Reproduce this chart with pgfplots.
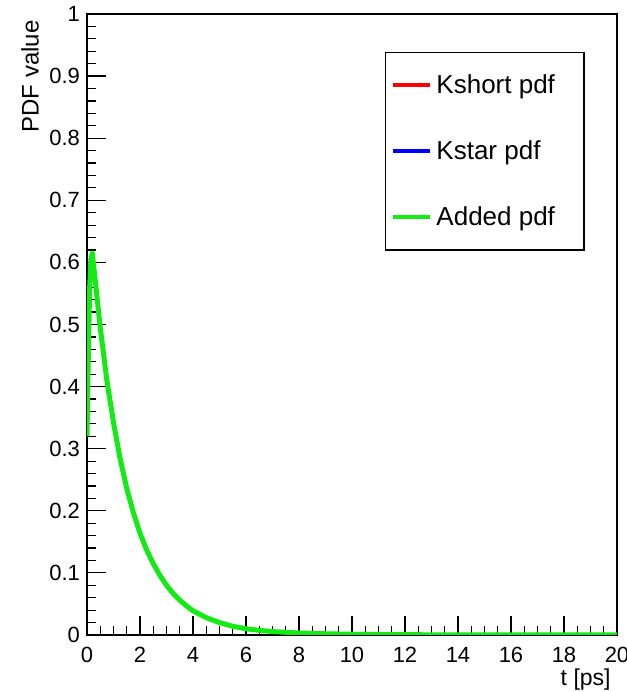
\documentclass[border=0pt]{standalone}
\usepackage{pgfplots}
\pgfplotsset{compat=1.18}
\usepackage{fontspec}
\setmainfont{Liberation Sans}
\definecolor{rootgreen}{RGB}{20,235,20}
\begin{document}
\begin{tikzpicture}
\begin{axis}[
  scale only axis, width=265pt, height=310.5pt,
  xmin=0, xmax=20, ymin=0, ymax=1,
  xtick={0,2,4,6,8,10,12,14,16,18,20},
  ytick={0,0.1,0.2,0.3,0.4,0.5,0.6,0.7,0.8,0.9,1},
  minor x tick num=3, minor y tick num=4,
  tick align=inside, xtick pos=bottom, ytick pos=left,
  major tick length=9.5pt, minor tick length=4.5pt,
  axis line style={line width=0.8pt},
  every tick/.style={black, line width=0.6pt},
  /pgf/number format/assume math mode=true,
  tick label style={font=\fontsize{11}{13}\selectfont},
  xticklabel style={yshift=-2.5pt},
  legend style={at={(rel axis cs:0.562,0.939)}, anchor=north west, draw=black, line width=0.6pt,
    font=\fontsize{13}{15}\selectfont, row sep=18pt, inner xsep=3pt, inner ysep=9pt},
  legend cell align=left,
  legend image code/.code={\draw[#1, line width=2pt] (0pt,0pt) -- (18.5pt,0pt);},
]
\coordinate (ll) at (rel axis cs:0,0);
\coordinate (ur) at (rel axis cs:1,1);
\coordinate (ul) at (rel axis cs:0,1);
\coordinate (lr) at (rel axis cs:1,0);
\addlegendimage{red}
\addlegendentry{Kshort pdf}
\addlegendimage{blue}
\addlegendentry{Kstar pdf}
\addplot[rootgreen, line width=2.5pt, line join=round] coordinates {
(0,0.32) (0.05,0.45) (0.1,0.56) (0.15,0.605) (0.2,0.615) (0.3,0.575) (0.4,0.535)
(0.5,0.495) (0.75,0.41) (1.0,0.342) (1.25,0.284) (1.5,0.236) (1.75,0.197)
(2.0,0.164) (2.25,0.137) (2.5,0.115) (2.75,0.096) (3.0,0.080) (3.25,0.067)
(3.5,0.056) (3.75,0.047) (4.0,0.039) (4.5,0.028) (5.0,0.020) (5.5,0.014)
(6.0,0.010) (6.5,0.0075) (7.0,0.0055) (8.0,0.0032) (9.0,0.002) (10,0.0012)
(11,0.0008) (12,0.0005) (14,0.0002) (16,0.0001) (18,0.00005) (20,0.00002)
};
\addlegendentry{Added pdf\hspace{9.5pt}\null}
\end{axis}
\node[anchor=east, rotate=90, inner sep=0pt, font=\fontsize{12}{14}\selectfont] at ([xshift=-28.5pt,yshift=-3pt]ul) {PDF value};
\node[anchor=east, inner sep=0pt, font=\fontsize{11.5}{14}\selectfont] at ([xshift=-3pt,yshift=-22.5pt]lr) {t [ps]};
\pgfresetboundingbox
\path ([xshift=-43.5pt,yshift=-28.5pt]ll) rectangle ([xshift=5pt,yshift=7pt]ur);
\end{tikzpicture}
\end{document}
